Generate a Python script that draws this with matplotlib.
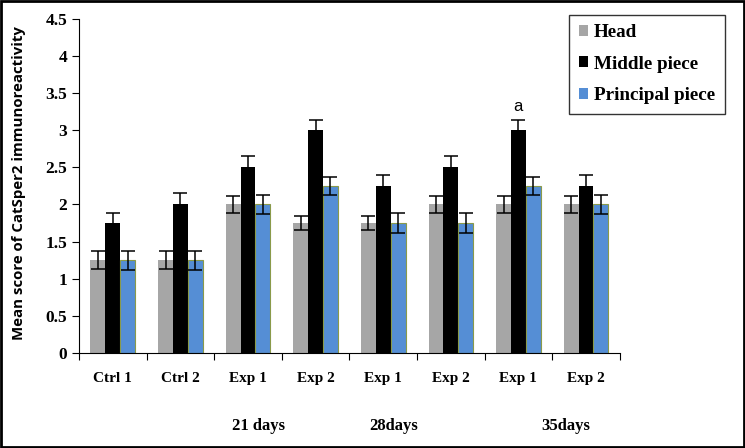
import matplotlib.pyplot as plt
import numpy as np

groups = ['Ctrl 1', 'Ctrl 2', 'Exp 1', 'Exp 2', 'Exp 1', 'Exp 2', 'Exp 1', 'Exp 2']
head = [1.25, 1.25, 2.0, 1.75, 1.75, 2.0, 2.0, 2.0]
middle = [1.75, 2.0, 2.5, 3.0, 2.25, 2.5, 3.0, 2.25]
principal = [1.25, 1.25, 2.0, 2.25, 1.75, 1.75, 2.25, 2.0]
head_err = [0.12, 0.12, 0.12, 0.1, 0.1, 0.12, 0.12, 0.12]
middle_err = [0.14, 0.15, 0.15, 0.14, 0.15, 0.15, 0.14, 0.15]
principal_err = [0.13, 0.13, 0.13, 0.12, 0.13, 0.13, 0.12, 0.13]
period_labels = ['21 days', '28days', '35days']
period_pos = [2.65, 4.65, 7.2]

serif = 'Liberation Serif'

fig = plt.figure(figsize=(7.45, 4.48), dpi=100)
ax = fig.add_axes([0.106, 0.212, 0.726, 0.746])

x = np.arange(len(groups)) + 0.5
w = 0.22
err_kw = dict(ecolor='black', capsize=5, elinewidth=1.1, capthick=1.1)
b1 = ax.bar(x - w, head, w, yerr=head_err, color='#a6a6a6', error_kw=err_kw, label='Head')
b2 = ax.bar(x, middle, w, yerr=middle_err, color='black', error_kw=err_kw, label='Middle piece')
b3 = ax.bar(x + w, principal, w, yerr=principal_err, color='#558ed5', edgecolor='#8a9a4a',
            linewidth=0.8, error_kw=err_kw, label='Principal piece')

ax.text(x[6], 3.22, 'a', ha='center', va='bottom', fontsize=12, family='Liberation Sans')

ax.set_xlim(0, len(groups))
ax.set_ylim(0, 4.5)
ax.set_yticks(np.arange(0, 4.51, 0.5))
ax.set_yticklabels(['0', '0.5', '1', '1.5', '2', '2.5', '3', '3.5', '4', '4.5'],
                   family=serif, fontweight='bold', fontsize=12.5)
ax.set_xticks(np.arange(0, len(groups) + 1))
ax.set_xticklabels([])
ax.tick_params(axis='x', length=5, direction='out')
ax.tick_params(axis='y', length=5, direction='out')
for xi, g in zip(x, groups):
    ax.text(xi, -0.34, g, ha='center', va='center', family=serif, fontweight='bold', fontsize=11)
for p, lab in zip(period_pos, period_labels):
    ax.text(p, -0.98, lab, ha='center', va='center', family=serif, fontweight='bold', fontsize=12)

ax.spines['top'].set_visible(False)
ax.spines['right'].set_visible(False)

ax.set_ylabel('Mean score of CatSper2 immunoreactivity', family='Open Sans',
              fontweight='bold', fontsize=10.8)
ax.yaxis.set_label_coords(-0.098, 0.51)

leg = ax.legend(loc='upper right', bbox_to_anchor=(1.194, 1.012), frameon=True, fancybox=False,
                prop={'family': serif, 'weight': 'bold', 'size': 13.8},
                handlelength=0.5, handleheight=0.5, handletextpad=0.3, labelspacing=0.75,
                borderpad=0.5, borderaxespad=0)
leg.get_frame().set_edgecolor('black')
leg.get_frame().set_linewidth(1.0)
for h in leg.legend_handles:
    h.set_linewidth(0)

fig.patches.append(plt.Rectangle((0.002, 0.002), 0.996, 0.996, transform=fig.transFigure,
                                 fill=False, edgecolor='black', linewidth=2))

fig.savefig('out.png', dpi=100)
